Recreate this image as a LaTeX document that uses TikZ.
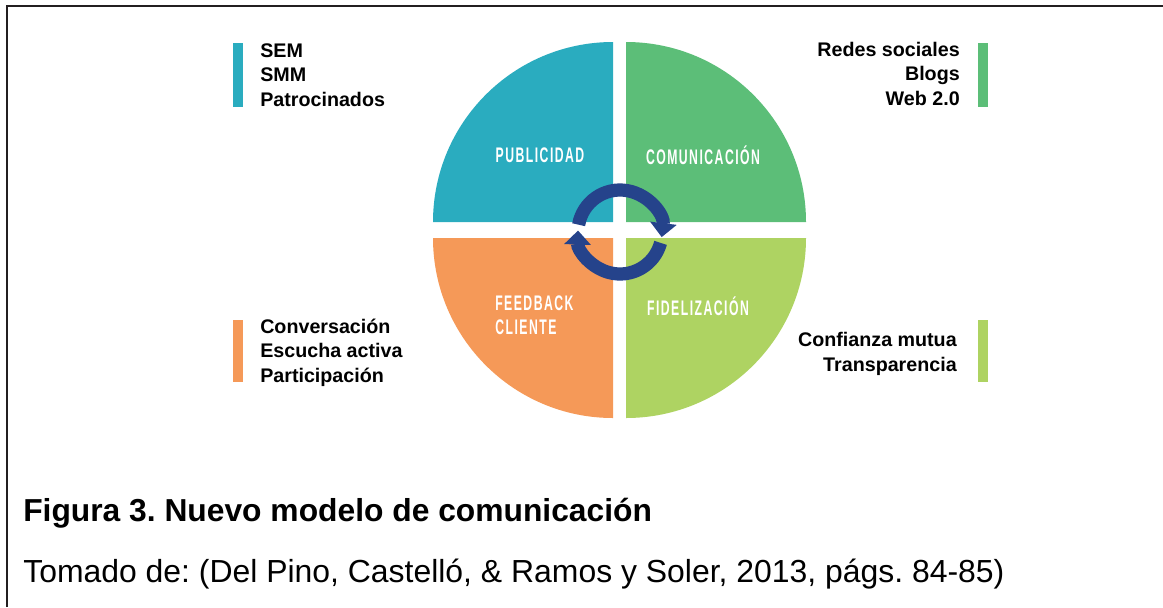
\documentclass[tikz,border=0pt]{standalone}
\usepackage{fontspec}
\setmainfont{Liberation Sans}
\newfontfamily\cuadfont[LetterSpace=12]{Liberation Sans}
\usetikzlibrary{arrows.meta}
\frenchspacing

\definecolor{azulpub}{HTML}{2AACBF}
\definecolor{verdecom}{HTML}{5CBE78}
\definecolor{naranjafb}{HTML}{F59958}
\definecolor{verdefid}{HTML}{AED362}
\definecolor{azulciclo}{HTML}{25438B}
\definecolor{marco}{HTML}{231F20}

\newcommand{\estrecho}[1]{\scalebox{0.58}[1]{#1}}

\tikzset{
  cuadro/.style={text=white, inner sep=0pt, font=\cuadfont\bfseries\fontsize{15}{23}\selectfont},
  lista/.style={inner sep=0pt, font=\bfseries\fontsize{14}{17.4}\selectfont},
  ciclo/.style={azulciclo, line width=0.33cm, -{Triangle[width=0.65cm,length=0.35cm]}}
}

\begin{document}
\begin{tikzpicture}[x=0.025cm, y=0.025cm]
        \useasboundingbox (0,0) rectangle (1163,-607);
        %marco
        \draw[marco, line width=1.4pt] (7,-607) -- (7,-6) -- (1163,-6);

        %cuadrantes del circulo
        \fill[azulpub] (613,-222) -- ++(-180,0) arc[start angle=180, end angle=90, radius=180] -- cycle;
        \fill[verdecom] (626,-222) -- ++(0,180) arc[start angle=90, end angle=0, radius=180] -- cycle;
        \fill[naranjafb] (613,-238) -- ++(0,-180) arc[start angle=270, end angle=180, radius=180] -- cycle;
        \fill[verdefid] (626,-238) -- ++(180,0) arc[start angle=0, end angle=-90, radius=180] -- cycle;

        \node[cuadro] (publicidad) at (540,-155) {\estrecho{PUBLICIDAD}};
        \node[cuadro] (comunicacion) at (703,-155) {\estrecho{COMUNICACIÓN}};
        \node[cuadro, anchor=base west] (feedback) at (495,-310) {\estrecho{FEEDBACK}};
        \node[cuadro, anchor=base west] (cliente) at (495,-334) {\estrecho{CLIENTE}};
        \node[cuadro, anchor=base] (fidelizacion) at (698,-315) {\estrecho{FIDELIZACIÓN}};

        %ciclo del centro
        \coordinate (centro) at (620,-232);
        \draw[ciclo] (centro) ++(170:42) arc[start angle=170, end angle=-7, radius=42];
        \draw[ciclo] (centro) ++(-15:42) arc[start angle=-15, end angle=-182, radius=42];

        %listas de los lados (base = ultima linea)
        \fill[azulpub] (233,-43) rectangle (243,-107);
        \node[lista, anchor=base west, align=left] (sem) at (260,-106) {SEM\\SMM\\Patrocinados};

        \fill[verdecom] (978,-43) rectangle (988,-107);
        \node[lista, anchor=base east, align=right] (redes) at (960,-105) {Redes sociales\\Blogs\\Web 2.0};

        \fill[naranjafb] (233,-320) rectangle (243,-382);
        \node[lista, anchor=base west, align=left] (conversacion) at (260,-382) {Conversación\\Escucha activa\\Participación};

        \fill[verdefid] (978,-320) rectangle (988,-382);
        \node[lista, anchor=base east, align=right] (confianza) at (957,-371) {Confianza mutua\\Transparencia};

        %pie de figura
        \node[anchor=base west, inner sep=0pt, font=\bfseries\fontsize{22.6}{25}\selectfont] (titulo) at (23,-521) {Figura 3. Nuevo modelo de comunicación};
        \node[anchor=base west, inner sep=0pt, font=\fontsize{22.7}{25}\selectfont] (fuente) at (23,-582) {Tomado de: (Del Pino, Castelló, \& Ramos y Soler, 2013, págs. 84-85)};
\end{tikzpicture}
\end{document}
